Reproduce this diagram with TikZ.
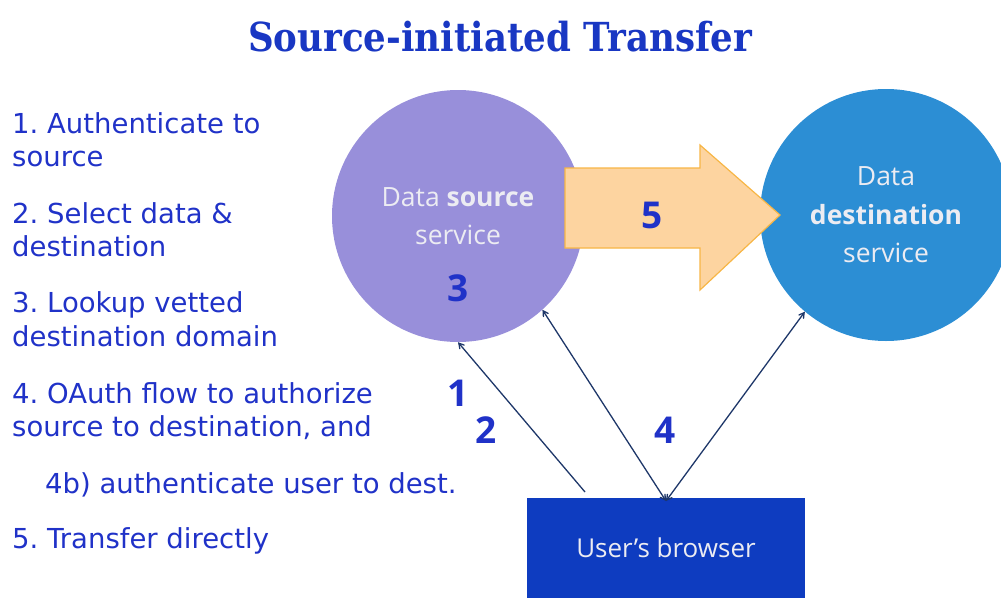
\documentclass[tikz,border=0pt]{standalone}
\usepackage{fontspec}
\setmainfont{DejaVu Sans}
\newfontfamily\titlefont[FakeStretch=0.89]{DejaVu Serif}
\newfontfamily\boxfont{Open Sans}
\usetikzlibrary{arrows, shapes}
\definecolor{txtblue}{RGB}{32,50,200}
\definecolor{titleblue}{RGB}{25,55,195}
\definecolor{srcfill}{RGB}{152,143,218}
\definecolor{dstfill}{RGB}{44,142,212}
\definecolor{bigarrowfill}{RGB}{253,212,160}
\definecolor{bigarrowdraw}{RGB}{247,182,70}
\definecolor{browserfill}{RGB}{14,60,192}
\definecolor{linkcol}{RGB}{30,55,105}
\definecolor{softwhite}{RGB}{236,236,242}
\frenchspacing

\begin{document}
\begin{tikzpicture}[x=1pt, y=-1pt, >=angle 60,
  item/.style={anchor=base west, align=left, inner sep=0, text=txtblue,
    font=\fontsize{27.5}{33.5}\selectfont},
  service/.style={circle, minimum size=252pt, inner sep=0, text=softwhite,
    align=center, font=\boxfont\fontsize{26.5}{38.5}\selectfont},
  stepnum/.style={text=txtblue, inner sep=0, font=\boxfont\bfseries\fontsize{37}{37}\selectfont},
  link/.style={draw=linkcol, line width=1.3pt}]
  \useasboundingbox (0,0) rectangle (1001,597);
  \clip (0,0) rectangle (1001,597);

  \node[anchor=base, text=titleblue, inner sep=0,
    font=\titlefont\bfseries\fontsize{40}{40}\selectfont] (title) at (500,51) {Source-initiated Transfer};

  % steps on the left
  \node[item] (s1) at (12,166.7) {1. Authenticate to\\source};
  \node[item] (s2) at (12,256.7) {2. Select data \&\\destination};
  \node[item] (s3) at (12,346) {3. Lookup vetted\\destination domain};
  \node[item] (s4) at (12,436.7) {4. OAuth flow to authorize\\source to destination, and};
  \node[item] (s4b) at (45,493.5) {4b) authenticate user to dest.};
  \node[item] (s5) at (12,548) {5. Transfer directly};

  % services and browser
  \node[service, fill=srcfill] (src) at (458,216) {Data \textbf{source}\\service};
  \node[service, fill=dstfill] (dst) at (886,215) {Data\\\textbf{destination}\\service};
  \node[fill=browserfill, text=softwhite, minimum width=278pt, minimum height=100pt,
    anchor=north, inner sep=0, font=\boxfont\fontsize{26}{26}\selectfont]
    (browser) at (666,498) {User’s browser};

  \filldraw[fill=bigarrowfill, draw=bigarrowdraw, line width=1.2pt]
    (565,168) -- (700,168) -- (700,145) -- (780,215) -- (700,290)
    -- (700,248) -- (565,248) -- cycle;
  \node[stepnum] (n5) at (652,215) {5};
  \node[stepnum] (n3) at (458,288) {3};

  % browser links
  \coordinate (b1) at (585,492);
  \draw[link, ->] (b1) -- (src.south);
  \draw[link, <->] ([yshift=-3pt]browser.north) -- (src.-48);
  \draw[link, <->] ([yshift=-3pt]browser.north) -- (dst.230);
  \node[stepnum] (n1) at (458,393) {1};
  \node[stepnum] (n2) at (486,430) {2};
  \node[stepnum] (n4) at (665,430) {4};
\end{tikzpicture}
\end{document}
